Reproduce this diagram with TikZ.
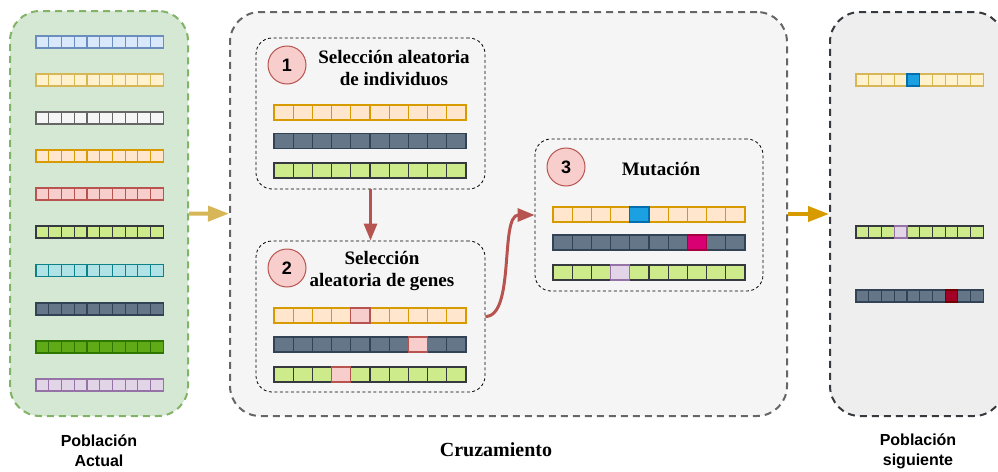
\documentclass[tikz,border=0pt]{standalone}
\usepackage{fontspec}
\setmainfont{Liberation Serif}
\newfontfamily\hvfont{Liberation Sans}
\usetikzlibrary{arrows.meta}
\definecolor{popF}{HTML}{D5E8D4}\definecolor{popS}{HTML}{82B366}
\definecolor{crzF}{HTML}{F5F5F5}\definecolor{crzS}{HTML}{666666}
\definecolor{sigF}{HTML}{EEEEEE}\definecolor{sigS}{HTML}{36393D}
\definecolor{blueF}{HTML}{DAE8FC}\definecolor{blueS}{HTML}{6C8EBF}
\definecolor{yelF}{HTML}{FFF2CC}\definecolor{yelS}{HTML}{D6B656}
\definecolor{grayF}{HTML}{F5F5F5}\definecolor{grayS}{HTML}{666666}
\definecolor{oraF}{HTML}{FFE6CC}\definecolor{oraS}{HTML}{D79B00}
\definecolor{redF}{HTML}{F8CECC}\definecolor{redS}{HTML}{B85450}
\definecolor{lgrF}{HTML}{CDEB8B}\definecolor{lgrS}{HTML}{36393D}
\definecolor{cyaF}{HTML}{B0E3E6}\definecolor{cyaS}{HTML}{0E8088}
\definecolor{drkF}{HTML}{647687}\definecolor{drkS}{HTML}{314354}
\definecolor{grnF}{HTML}{60A917}\definecolor{grnS}{HTML}{2D7600}
\definecolor{purF}{HTML}{E1D5E7}\definecolor{purS}{HTML}{9673A6}
\definecolor{mblF}{HTML}{1BA1E2}\definecolor{mblS}{HTML}{006EAF}
\definecolor{mmgF}{HTML}{D80073}\definecolor{mmgS}{HTML}{A50040}
\definecolor{mcrF}{HTML}{A20025}\definecolor{mcrS}{HTML}{6F0000}
% #1 left x, #2 centre y, #3 cell width, #4 height, #5 style
\newcommand\chromrow[5]{%
  \draw[#5] (#1,{#2-#4/2}) rectangle ++({10*#3},#4);
  \foreach \k in {1,...,9}{\draw[#5,fill=none] ({#1+\k*#3},{#2-#4/2}) -- ++(0,#4);}}
\newcommand\genecell[6]{\draw[#6] ({#1+#5*#3},{#2-#4/2}) rectangle ++(#3,#4);}
\tikzset{
  gblue/.style={fill=blueF,draw=blueS,line width=1.2pt},
  gyel/.style={fill=yelF,draw=yelS,line width=1.2pt},
  ggray/.style={fill=grayF,draw=grayS,line width=1.2pt},
  gora/.style={fill=oraF,draw=oraS,line width=1.2pt},
  gred/.style={fill=redF,draw=redS,line width=1.2pt},
  glgr/.style={fill=lgrF,draw=lgrS,line width=1.2pt},
  gcya/.style={fill=cyaF,draw=cyaS,line width=1.2pt},
  gdrk/.style={fill=drkF,draw=drkS,line width=1.2pt},
  ggrn/.style={fill=grnF,draw=grnS,line width=1.2pt},
  gpur/.style={fill=purF,draw=purS,line width=1.2pt},
  gmbl/.style={fill=mblF,draw=mblS,line width=1.2pt},
  gmmg/.style={fill=mmgF,draw=mmgS,line width=1.2pt},
  gmcr/.style={fill=mcrF,draw=mcrS,line width=1.2pt},
  container/.style={rectangle,rounded corners=30pt,line width=2pt,dash pattern=on 7pt off 5pt,inner sep=0pt},
  stepbox/.style={rectangle,rounded corners=16pt,draw=black,line width=0.8pt,dash pattern=on 3pt off 2.5pt,inner sep=0pt,minimum width=229pt,minimum height=151pt},
  numcirc/.style={circle,fill=redF,draw=redS,line width=1pt,minimum size=38pt,inner sep=0pt,font=\hvfont\bfseries\fontsize{18}{20}\selectfont},
  ttl/.style={align=center,font=\bfseries\fontsize{19}{22}\selectfont,inner sep=0pt},
  lbl/.style={align=center,font=\hvfont\bfseries\fontsize{16}{20}\selectfont,inner sep=0pt},
  redarrow/.style={draw=redS,line width=3pt,-{Triangle[length=17pt,width=13pt]}},
}
\begin{document}
\begin{tikzpicture}[x=1pt,y=-1pt]
\useasboundingbox (0,0) rectangle (998,471);
\clip (0,0) rectangle (998,471);
% containers
\node[container,fill=popF,draw=popS,minimum width=178pt,minimum height=405pt] (pop) at (99,213.5) {};
\node[container,fill=crzF,draw=crzS,minimum width=557pt,minimum height=404pt] (crz) at (508.5,214) {};
\node[container,fill=sigF,draw=sigS,minimum width=174pt,minimum height=404pt] (sig) at (917,214) {};
% population
\chromrow{36}{42}{12.73}{12}{gblue}
\chromrow{36}{80}{12.73}{12}{gyel}
\chromrow{36}{118}{12.73}{12}{ggray}
\chromrow{36}{156}{12.73}{12}{gora}
\chromrow{36}{194}{12.73}{12}{gred}
\chromrow{36}{232}{12.73}{12}{glgr}
\chromrow{36}{270.5}{12.73}{12}{gcya}
\chromrow{36}{309}{12.73}{12}{gdrk}
\chromrow{36}{347}{12.73}{12}{ggrn}
\chromrow{36}{385}{12.73}{12}{gpur}
% next population
\chromrow{856}{80}{12.73}{12}{gyel}
\genecell{856}{80}{12.73}{12}{4}{gmbl}
\chromrow{856}{232}{12.73}{12}{glgr}
\genecell{856}{232}{12.73}{12}{3}{gpur}
\chromrow{856}{296}{12.73}{12}{gdrk}
\genecell{856}{296}{12.73}{12}{7}{gmcr}
% step boxes
\node[stepbox] (b1) at (370.5,113.5) {};
\node[stepbox] (b2) at (370.5,316.5) {};
\node[stepbox,minimum width=228pt,minimum height=152pt] (b3) at (649,215) {};
\node[numcirc] (c1) at (287,65) {1};
\node[numcirc] (c2) at (287,268) {2};
\node[numcirc] (c3) at (566,167) {3};
\node[ttl] (t1) at (394,68) {Selección aleatoria\\de individuos};
\node[ttl] (t2) at (382,271) {Selección\\aleatoria de genes};
\node[ttl] (t3) at (661,169) {Mutación};
% step 1 chromosomes
\chromrow{274}{112.5}{19.2}{15}{gora}
\chromrow{274}{141}{19.2}{15}{gdrk}
\chromrow{274}{170.5}{19.2}{15}{glgr}
% step 2
\chromrow{274}{315.5}{19.2}{15}{gora}
\genecell{274}{315.5}{19.2}{15}{4}{gred}
\chromrow{274}{344.5}{19.2}{15}{gdrk}
\genecell{274}{344.5}{19.2}{15}{7}{gred}
\chromrow{274}{374.5}{19.2}{15}{glgr}
\genecell{274}{374.5}{19.2}{15}{3}{gred}
% step 3
\chromrow{553}{214.5}{19.2}{15}{gora}
\genecell{553}{214.5}{19.2}{15}{4}{gmbl}
\chromrow{553}{242.5}{19.2}{15}{gdrk}
\genecell{553}{242.5}{19.2}{15}{7}{gmmg}
\chromrow{553}{272.5}{19.2}{15}{glgr}
\genecell{553}{272.5}{19.2}{15}{3}{gpur}
% connectors
\draw[draw=yelS,line width=4pt,-{Triangle[length=21pt,width=15pt]}] (pop) -- (crz);
\draw[draw=oraS,line width=4pt,-{Triangle[length=21pt,width=15pt]}] (crz) -- (sig);
\draw[redarrow] (b1) -- (b2);
\draw[redarrow] (b2.east) .. controls +(30,0) and +(-35,0) .. (b3.west);
% labels
\node[lbl] (lp) at (99,451) {Población\\Actual};
\node[lbl] (ls) at (918,451) {Población\\siguiente};
\node[font=\bfseries\fontsize{20}{24}\selectfont,inner sep=0pt] (lc) at (496,450) {Cruzamiento};
\end{tikzpicture}
\end{document}
